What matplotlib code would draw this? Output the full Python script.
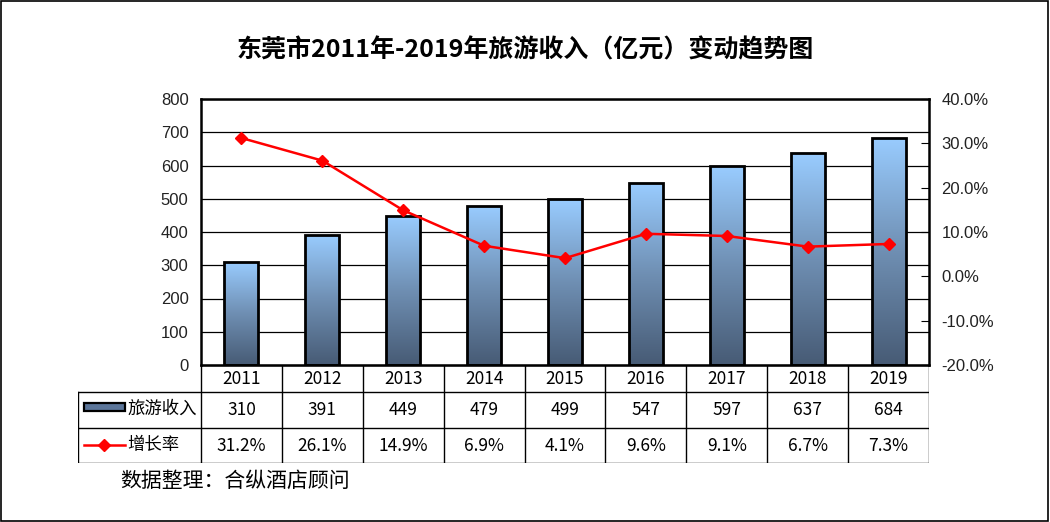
import numpy as np
import matplotlib.pyplot as plt
from matplotlib.colors import LinearSegmentedColormap
from matplotlib.patches import Rectangle

plt.rcParams['font.family'] = ['Noto Sans CJK SC', 'DejaVu Sans']

years = ['2011', '2012', '2013', '2014', '2015', '2016', '2017', '2018', '2019']
income = [310, 391, 449, 479, 499, 547, 597, 637, 684]
growth = [31.2, 26.1, 14.9, 6.9, 4.1, 9.6, 9.1, 6.7, 7.3]
series_names = ['旅游收入', '增长率']
title = '东莞市2011年-2019年旅游收入（亿元）变动趋势图'
source = '数据整理：合纵酒店顾问'

W, H = 1050, 522
fig = plt.figure(figsize=(W / 100, H / 100), dpi=100)

def px(x0, y0, x1, y1):
    # pixel box (top-left origin) -> figure fraction rect
    return [x0 / W, 1 - y1 / H, (x1 - x0) / W, (y1 - y0) / H]

cmap = LinearSegmentedColormap.from_list('bar', ['#475b75', '#6f8fb3', '#99ccff'])
num_font = ['Liberation Sans', 'DejaVu Sans']

ax = fig.add_axes(px(201, 99, 929, 365))
x = np.arange(len(years))
bw = 0.42
ax.set_yticks(range(0, 801, 100))
ax.yaxis.grid(True, color='black', linewidth=0.9)
ax.set_axisbelow(True)
ax.set_xticks([])
ax.tick_params(axis='y', length=0, labelsize=12, pad=9)
for lab in ax.get_yticklabels():
    lab.set_family(num_font)
    lab.set_color('#222222')
grad = np.linspace(0, 1, 256).reshape(-1, 1)
for xi, v in zip(x, income):
    rect = Rectangle((xi - bw / 2, 0), bw, v, facecolor='none', edgecolor='black', linewidth=2, zorder=3)
    ax.add_patch(rect)
    im = ax.imshow(grad, cmap=cmap, aspect='auto', origin='lower',
                   extent=(xi - bw / 2, xi + bw / 2, 0, v), zorder=2)
    im.set_clip_path(rect)
ax.set_xlim(-0.5, len(years) - 0.5)
ax.set_ylim(0, 800)
for s in ax.spines.values():
    s.set_linewidth(1.8)
    s.set_zorder(5)

ax2 = ax.twinx()
ax2.set_ylim(-20, 40)
ax2.set_yticks(range(-20, 41, 10))
ax2.set_yticklabels([f'{t:.1f}%' for t in range(-20, 41, 10)], family=num_font, color='#222222')
ax2.tick_params(axis='y', direction='in', length=6, labelsize=12, pad=9)
ax2.plot(x, growth, color='red', linewidth=1.8, marker='D', markersize=6.5, zorder=6)
for s in ax2.spines.values():
    s.set_visible(False)

# data table under the plot
tab = fig.add_axes(px(78, 365, 929, 463))
tab.set_xlim(78, 929)
tab.set_ylim(463, 365)
tab.axis('off')
col0 = 201
cw = (929 - 201) / len(years)
rows = [365, 392, 428, 463]
lw = 1.0
tab.plot([col0, 929], [365, 365], color='black', lw=lw)
for yy in rows[1:]:
    tab.plot([78, 929], [yy, yy], color='black', lw=lw)
tab.plot([78, 78], [392, 463], color='black', lw=lw)
for i in range(len(years) + 1):
    xx = col0 + i * cw
    tab.plot([xx, xx], [365, 463], color='black', lw=lw)
for i in range(len(years)):
    cx = col0 + (i + 0.5) * cw
    tab.text(cx, 379, years[i], ha='center', va='center', fontsize=12.5)
    tab.text(cx, 410, str(income[i]), ha='center', va='center', fontsize=12.5)
    tab.text(cx, 446, f'{growth[i]:.1f}%', ha='center', va='center', fontsize=12.5)
tab.add_patch(Rectangle((84, 403), 41, 8, facecolor='#5b7599', edgecolor='black', linewidth=1.6))
tab.text(127, 409, series_names[0], ha='left', va='center', fontsize=12.5)
tab.plot([84, 125], [445, 445], color='red', lw=1.8)
tab.plot([104], [445], color='red', marker='D', markersize=6)
tab.text(127, 445, series_names[1], ha='left', va='center', fontsize=12.5)

fig.text(0.5, 1 - 50 / H, title, ha='center', va='center', fontsize=18, fontweight='bold')
fig.text(120 / W, 1 - 481 / H, source, ha='left', va='center', fontsize=15)

fig.add_artist(Rectangle((0.001, 0.002), 0.997, 0.996, transform=fig.transFigure,
                         facecolor='none', edgecolor='black', linewidth=1.2))

fig.savefig('out.png', dpi=100)
